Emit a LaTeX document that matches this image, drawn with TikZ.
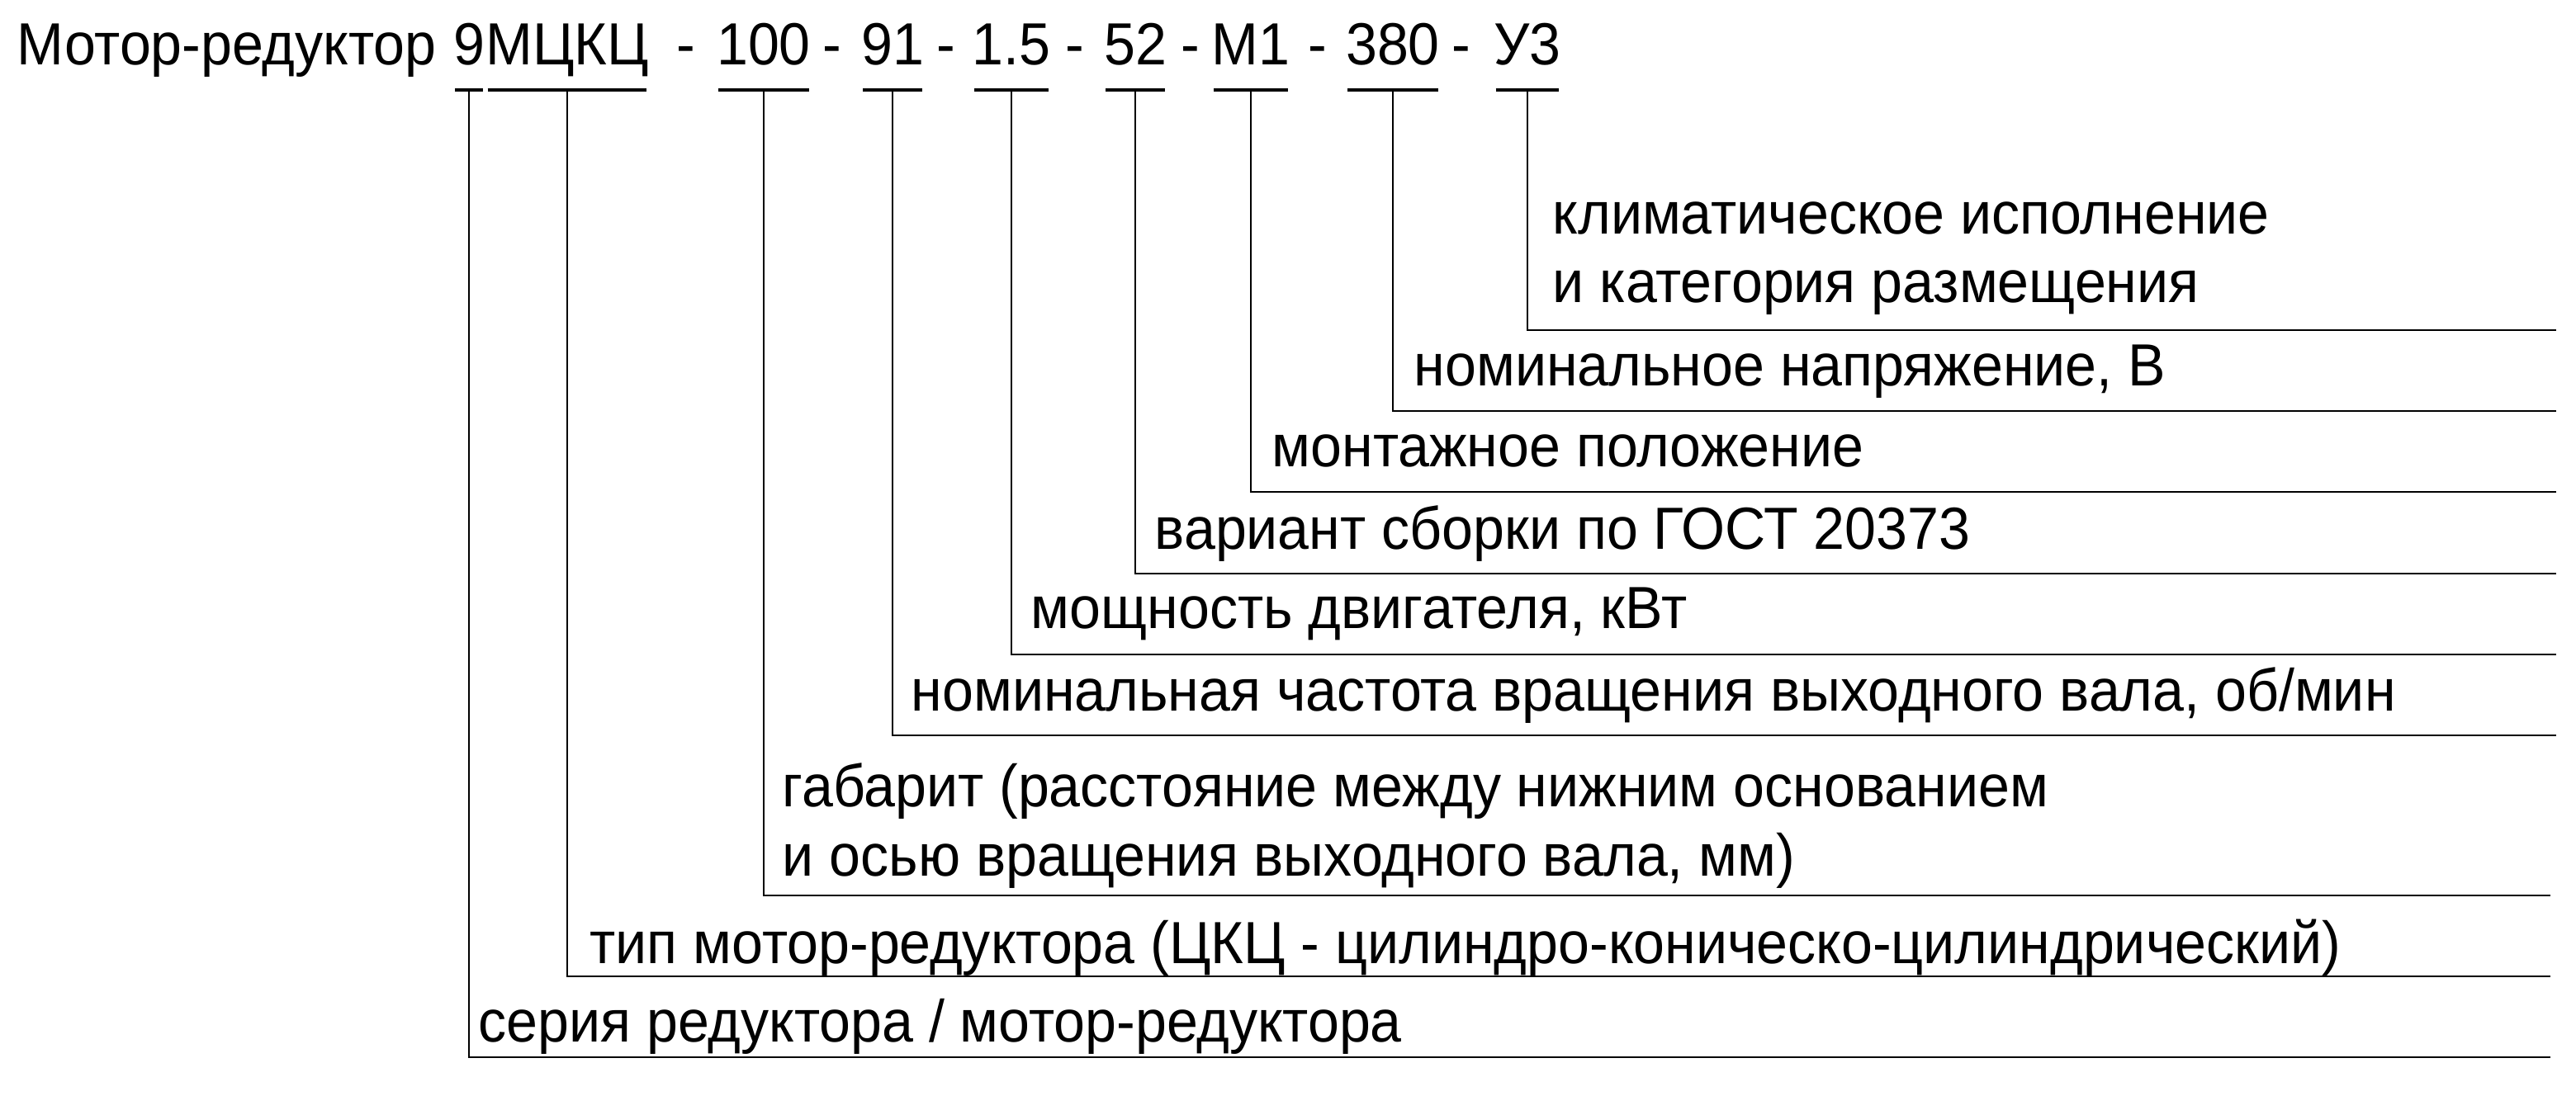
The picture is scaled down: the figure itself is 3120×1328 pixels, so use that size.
\documentclass[tikz,border=0pt]{standalone}
\usepackage{fontspec}
\setmainfont{Liberation Sans}[FakeStretch=0.945]
\begin{document}
\begin{tikzpicture}[
  x=0.01cm, y=0.01cm,
  basic/.style = {inner sep=0pt, font=\fontsize{20.5}{23.8}\selectfont},
  code/.style = {basic, anchor=base, text depth=0.29cm},
  sep/.style = {basic, anchor=base},
  note/.style = {basic, anchor=base west, align=left},
  bar/.style = {line width=1.1pt, shorten <=0.03cm, shorten >=0.03cm},
  leader/.style = {line width=0.7pt},
]
  \useasboundingbox (0,0) rectangle (3120,-1328);
  % designation
  \node[basic, anchor=base west] (title) at (20,-79) {Мотор-редуктор};
  \node[code] (ser) at (568,-79) {9};
  \node[code] (typ) at (687,-79) {МЦКЦ};
  \node[sep] (s1) at (831,-79) {-};
  \node[code] (gab) at (925,-79) {100};
  \node[sep] (s2) at (1008,-79) {-};
  \node[code] (rpm) at (1081,-79) {91};
  \node[sep] (s3) at (1146,-79) {-};
  \node[code] (pow) at (1225,-79) {1.5};
  \node[sep] (s4) at (1302,-79) {-};
  \node[code] (asm) at (1375,-79) {52};
  \node[sep] (s5) at (1442,-79) {-};
  \node[code] (mnt) at (1515,-79) {М1};
  \node[sep] (s6) at (1596,-79) {-};
  \node[code] (vlt) at (1687,-79) {380};
  \node[sep] (s7) at (1770,-79) {-};
  \node[code] (clm) at (1850,-79) {У3};
  % right ends of the leaders
  \coordinate (clmE) at (3096,-400);
  \coordinate (vltE) at (3096,-498);
  \coordinate (mntE) at (3096,-596);
  \coordinate (asmE) at (3096,-695);
  \coordinate (powE) at (3096,-793);
  \coordinate (rpmE) at (3096,-891);
  \coordinate (gabE) at (3089,-1085);
  \coordinate (typE) at (3089,-1183);
  \coordinate (serE) at (3089,-1281);
  % explanations (base = last line)
  \node[note] (clmL) at (1880,-367) {климатическое исполнение\\и категория размещения};
  \node[note] (vltL) at (1712,-468) {номинальное напряжение, В};
  \node[note] (mntL) at (1540,-566) {монтажное положение};
  \node[note] (asmL) at (1398,-666) {вариант сборки по ГОСТ 20373};
  \node[note] (powL) at (1248,-762) {мощность двигателя, кВт};
  \node[note] (rpmL) at (1103,-862) {номинальная частота вращения выходного вала, об/мин};
  \node[note] (gabL) at (947,-1061) {габарит (расстояние между нижним основанием\\и осью вращения выходного вала, мм)};
  \node[note] (typL) at (714,-1167) {тип мотор-редуктора (ЦКЦ - цилиндро-коническо-цилиндрический)};
  \node[note] (serL) at (579,-1262) {серия редуктора / мотор-редуктора};
  % bars and leaders
  \foreach \n in {ser,typ,gab,rpm,pow,asm,mnt,vlt,clm}{
    \draw[bar] (\n.south west) -- (\n.south east);
    \draw[leader] (\n.south) |- (\n E);
  }
\end{tikzpicture}
\end{document}
